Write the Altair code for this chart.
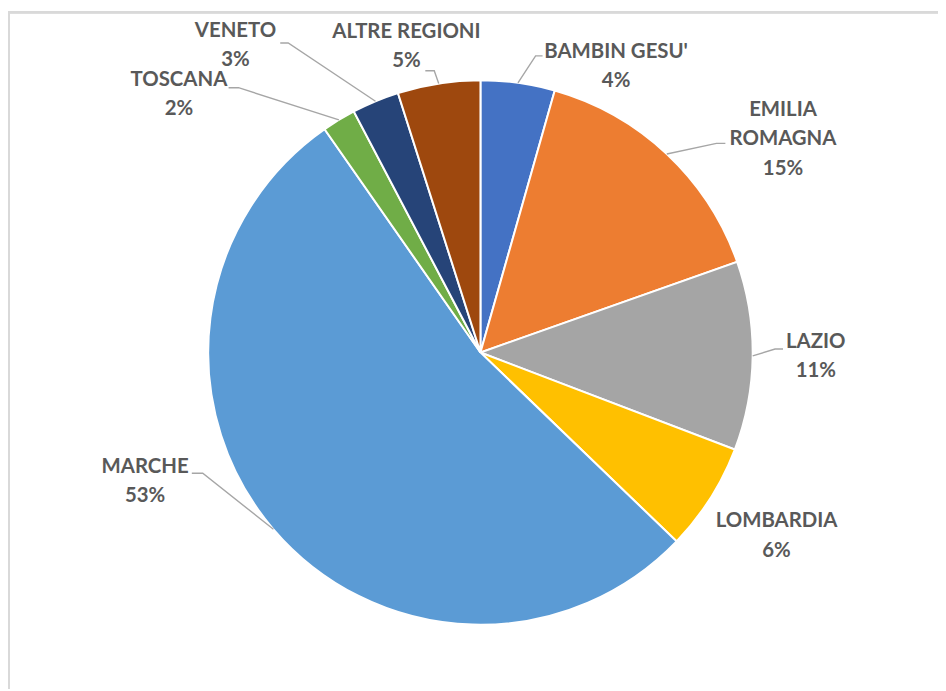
import math
import altair as alt
import pandas as pd

# ---- data ----
regions = ["BAMBIN GESU'", "EMILIA\nROMAGNA", "LAZIO", "LOMBARDIA", "MARCHE",
           "TOSCANA", "VENETO", "ALTRE REGIONI"]
shares = [4.4, 15.2, 11.2, 6.4, 53.1, 2.0, 2.8, 4.9]
colors = ["#4472C4", "#ED7D31", "#A5A5A5", "#FFC000", "#5B9BD5",
          "#70AD47", "#264478", "#9E480E"]

# ---- layout (plot pixels; page = plot + 8px margin) ----
W, H = 936, 681
CX, CY, R = 475.5, 344.5, 274
# centre of first text line of each label
label_pos = [(612, 42), (780, 100.5), (813, 334), (773.5, 514.5),
             (138, 459.5), (172, 70.5), (229, 21), (401, 22)]
leader_start = [(538, 46), (722, 134), (780, 341), None,
                (185, 466), (222, 78), (274, 33), (420, 61)]
leader_elbow = [(531, 46), (713, 134), (772, 341), None,
                (196, 466), (232, 78), (282, 33), (429, 61)]

FONT = "Lato"
FSIZE = 20.5
TXT = "#595959"

pie_df = pd.DataFrame({"region": regions, "share": shares,
                       "ord": list(range(len(regions)))})

total = sum(shares)
cum = 0.0
line_rows, text_rows = [], []
for i, (name, v) in enumerate(zip(regions, shares)):
    mid = (cum + v / 2) / total * 2 * math.pi
    cum += v
    ex = CX + R * math.sin(mid)
    ey = CY - R * math.cos(mid)
    pct = f"{round(v / total * 100)}%"
    text_rows.append({"region": name, "label": name + "\n" + pct,
                      "x": label_pos[i][0], "y": label_pos[i][1]})
    if leader_start[i] is not None:
        for k, (px, py) in enumerate([leader_start[i], leader_elbow[i], (ex, ey)]):
            line_rows.append({"region": name, "k": k, "x": px, "y": py})

line_df = pd.DataFrame(line_rows)
text_df = pd.DataFrame(text_rows)

frame = alt.Chart(pie_df).mark_rect(
    filled=False, stroke="#D9D9D9", strokeWidth=2
).encode(x=alt.value(1), y=alt.value(2), x2=alt.value(1400), y2=alt.value(1400))

pie = alt.Chart(pie_df).mark_arc(
    radius=R, stroke="white", strokeWidth=2
).encode(
    theta=alt.Theta("share:Q", stack=True),
    order=alt.Order("ord:Q"),
    color=alt.Color("region:N", scale=alt.Scale(domain=regions, range=colors),
                    legend=None),
    x=alt.value(CX), y=alt.value(CY),
)

leaders = alt.Chart(line_df).mark_line(
    color="#A6A6A6", strokeWidth=1.4
).encode(
    x=alt.X("x:Q", scale=None, axis=None),
    y=alt.Y("y:Q", scale=None, axis=None),
    detail="region:N",
    order="k:Q",
)

labels = alt.Chart(text_df).mark_text(
    font=FONT, fontSize=FSIZE, fontWeight="bold", color=TXT,
    align="center", baseline="middle", lineBreak="\n", lineHeight=29.5,
).encode(
    x=alt.X("x:Q", scale=None, axis=None),
    y=alt.Y("y:Q", scale=None, axis=None),
    text="label:N",
)

chart = alt.layer(frame, pie, leaders, labels).properties(
    width=W, height=H, autosize=alt.AutoSizeParams(type="none"), padding=0,
    background="white",
).configure_view(stroke="transparent")

chart.save("out.html", embed_options={"renderer": "svg", "actions": False})
